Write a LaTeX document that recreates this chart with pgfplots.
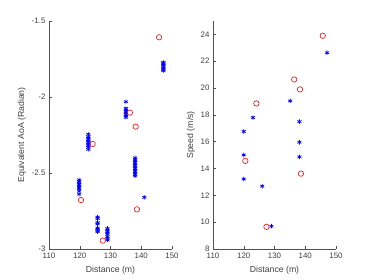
\documentclass[border=0pt]{standalone}
\usepackage{pgfplots}
\pgfplotsset{compat=1.18}
\usepackage{fontspec}
\setmainfont{Liberation Sans}
\definecolor{axgray}{RGB}{80,80,80}
\pgfplotsset{
  myax/.style={
    scale only axis, width=123pt, height=228pt,
    axis x line*=bottom, axis y line*=left,
    axis line style={axgray, line width=0.5pt},
    tick style={axgray, line width=0.5pt},
    tick align=inside, major tick length=3pt,
    xmin=110, xmax=150, xtick={110,120,...,150},
    ticklabel style={font=\fontsize{7.9}{8}\selectfont, text=axgray!80!black},
    label style={font=\fontsize{8.7}{9}\selectfont, text=axgray!80!black},
    xlabel={Distance (m)},
    /pgf/number format/assume math mode=true,
    xlabel style={yshift=-1pt},
    ylabel style={yshift=-1pt},
  },
  bstar/.style={only marks, mark=asterisk, mark size=2.3pt, color=blue, mark options={line width=0.7pt}},
  rcirc/.style={only marks, mark=o, mark size=2.7pt, color=red, mark options={line width=0.6pt}},
}
\begin{document}
\begin{tikzpicture}
\path[use as bounding box] (0,0) rectangle (374pt,280pt);
\begin{axis}[myax, at={(49pt,31pt)}, anchor=south west,
  ymin=-3, ymax=-1.5, ytick={-3,-2.5,-2,-1.5},
  yticklabels={-3,-2.5,-2,-1.5},
  ylabel={Equivalent AoA (Radian)}]
\addplot[bstar] coordinates {
 (119.8,-2.545) (119.8,-2.555) (119.8,-2.565) (119.8,-2.575) (119.8,-2.585) (119.8,-2.595) (119.8,-2.605) (119.8,-2.62) (119.8,-2.64)
 (122.8,-2.245) (122.8,-2.26) (122.8,-2.27) (122.8,-2.28) (122.8,-2.29) (122.8,-2.30) (122.8,-2.31) (122.8,-2.32) (122.8,-2.33) (122.8,-2.345)
 (125.8,-2.79) (125.8,-2.80) (125.8,-2.826) (125.8,-2.835) (125.8,-2.862) (125.8,-2.87) (125.8,-2.878) (125.8,-2.886)
 (129.0,-2.865) (129.0,-2.875) (129.0,-2.885) (129.0,-2.895) (129.0,-2.905) (129.0,-2.92) (129.0,-2.93) (129.0,-2.94)
 (135.0,-2.031) (135.0,-2.075) (135.0,-2.085) (135.0,-2.095) (135.0,-2.105) (135.0,-2.115) (135.0,-2.125) (135.0,-2.134)
 (138.0,-2.40) (138.0,-2.41) (138.0,-2.42) (138.0,-2.43) (138.0,-2.44) (138.0,-2.45) (138.0,-2.46) (138.0,-2.47) (138.0,-2.48) (138.0,-2.49) (138.0,-2.50) (138.0,-2.51) (138.0,-2.52)
 (141.0,-2.66)
 (147.2,-1.772) (147.2,-1.78) (147.2,-1.79) (147.2,-1.80) (147.2,-1.81) (147.2,-1.82) (147.2,-1.827)
};
\addplot[rcirc] coordinates {
 (120.4,-2.678) (124.2,-2.309) (127.5,-2.945) (136.3,-2.103) (138.2,-2.195) (138.6,-2.739) (145.8,-1.607)
};
\end{axis}
\begin{axis}[myax, at={(213pt,31pt)}, anchor=south west,
  ymin=8, ymax=25, ytick={8,10,...,24},
  ylabel={Speed (m/s)}]
\addplot[bstar] coordinates {
 (120,16.76) (120,15.01) (120,13.22) (123,17.8) (126,12.68) (129,9.7) (135.1,19.04) (138.1,17.5) (138.1,15.96) (138.1,14.87) (147.1,22.63)
};
\addplot[rcirc] coordinates {
 (120.5,14.57) (124.1,18.85) (127.4,9.65) (136.4,20.64) (138.3,19.9) (138.6,13.62) (145.7,23.9)
};
\end{axis}
\end{tikzpicture}
\end{document}
